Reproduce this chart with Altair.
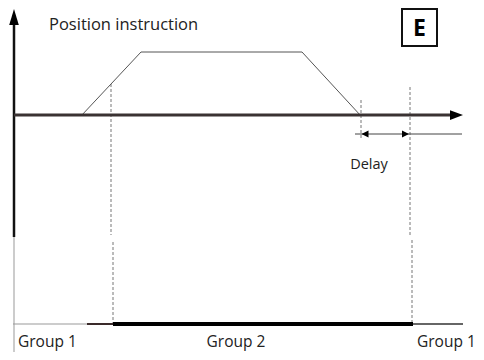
import altair as alt
import pandas as pd

# ---- diagram values (time positions / levels, in diagram units) ----
ramp_x = [81, 141, 302, 361]          # position instruction trapezoid: start, top start, top end, end
ramp_y = [116, 52, 52, 116]           # base level / top level

# solid segments: x, x2, y, y2, colour, width
seg_x = [14, 14, 14, 13, 87, 113, 413, 355]
seg_x2 = [14, 14, 452, 87, 113, 413, 463, 462]
seg_y = [20, 237, 115, 324, 324, 324, 324, 134]
seg_y2 = [237, 355, 115, 324, 324, 324, 324, 134]
seg_col = ["#111111", "#999999", "#3a3232", "#999999", "#3a2a2a", "#000000", "#333333", "#444444"]
seg_w = [2.5, 1, 3, 1, 2, 4, 1.5, 1]

# dashed guide lines
dash_x = [111, 113, 361, 410, 412]
dash_y = [84, 242, 100, 87, 240]
dash_y2 = [235, 323, 140, 235, 322]

# arrowheads: x, y, shape, size
arr_x = [14, 456.5, 365, 405.5]
arr_y = [17, 115, 134, 134]
arr_shape = ["M0,-1L0.6,1L-0.6,1Z", "M1,0L-1,-0.75L-1,0.75Z",
             "M-1,0L1,-1L1,1Z", "M1,0L-1,-1L-1,1Z"]
arr_size = [256, 169, 49, 49]

# labels
lab_text = ["Position instruction", "Delay", "Group 1", "Group 2", "Group 1"]
lab_x = [49, 369, 18, 236, 417]
lab_y = [25, 165, 342, 342, 342]
lab_align = ["left", "center", "left", "center", "left"]
lab_size = [16.5, 14.5, 15.5, 15.5, 15.5]

box_x, box_x2, box_y, box_y2 = 402, 437, 9, 46
box_label = "E"

W, H = 468, 344
xs = alt.Scale(domain=[8, 8 + W])
ys = alt.Scale(domain=[8, 8 + H], reverse=True)
X = lambda f: alt.X(f, type="quantitative", scale=xs, axis=None)
Y = lambda f: alt.Y(f, type="quantitative", scale=ys, axis=None)

seg_df = pd.DataFrame(dict(x=seg_x, x2=seg_x2, y=seg_y, y2=seg_y2, c=seg_col, w=seg_w))
segs = alt.Chart(seg_df).mark_rule(strokeCap="butt").encode(
    x=X("x"), x2="x2", y=Y("y"), y2="y2",
    color=alt.Color("c:N", scale=None), strokeWidth=alt.StrokeWidth("w:Q", scale=None))

ramp_df = pd.DataFrame(dict(x=ramp_x, y=ramp_y, o=list(range(len(ramp_x)))))
ramp = alt.Chart(ramp_df).mark_line(color="#555555", strokeWidth=1).encode(
    x=X("x"), y=Y("y"), order="o:Q")

dash_df = pd.DataFrame(dict(x=dash_x, y=dash_y, y2=dash_y2))
dashes = alt.Chart(dash_df).mark_rule(color="#777777", strokeWidth=1, strokeDash=[3, 2]).encode(
    x=X("x"), y=Y("y"), y2="y2")

arrows = []
for ax_, ay_, sh, sz in zip(arr_x, arr_y, arr_shape, arr_size):
    arrows.append(alt.Chart(pd.DataFrame(dict(x=[ax_], y=[ay_]))).mark_point(
        shape=sh, size=sz, filled=True, color="#000000", opacity=1, strokeWidth=0).encode(
        x=X("x"), y=Y("y")))

lab_df = pd.DataFrame(dict(t=lab_text, x=lab_x, y=lab_y, a=lab_align, s=lab_size))
labels = []
for al in ["left", "center"]:
    labels.append(alt.Chart(lab_df[lab_df.a == al]).mark_text(
        align=al, baseline="middle", font="Open Sans", color="#222222").encode(
        x=X("x"), y=Y("y"), text="t:N", size=alt.Size("s:Q", scale=None)))

box_df = pd.DataFrame(dict(x=[box_x], x2=[box_x2], y=[box_y], y2=[box_y2],
                           cx=[(box_x + box_x2) / 2], cy=[(box_y + box_y2) / 2 + 1], t=[box_label]))
box = alt.Chart(box_df).mark_rect(fill="white", stroke="#111111", strokeWidth=2).encode(
    x=X("x"), x2="x2", y=Y("y"), y2="y2")
box_t = alt.Chart(box_df).mark_text(font="Open Sans", fontWeight="bold", fontSize=23,
                                     align="center", baseline="middle", color="#000000").encode(
    x=X("cx"), y=Y("cy"), text="t:N")

chart = alt.layer(dashes, ramp, segs, *arrows, *labels, box, box_t).properties(
    width=W, height=H, padding=0, autosize=alt.AutoSizeParams(type="none")
).configure_view(stroke=None)

chart.save("out.html", embed_options={"renderer": "svg", "actions": False})
